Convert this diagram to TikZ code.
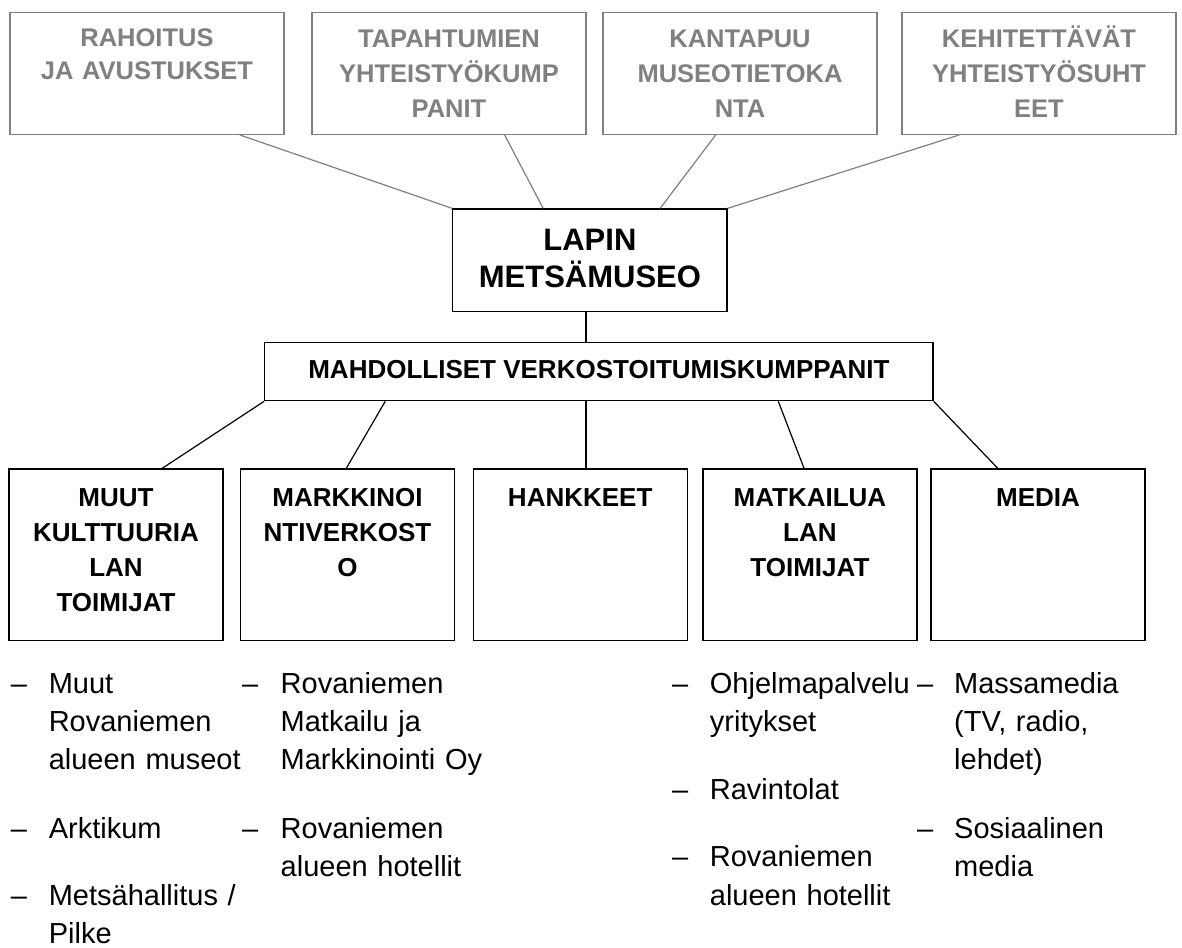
\documentclass[tikz,border=0pt]{standalone}
\usepackage{fontspec}
\setmainfont{Liberation Sans}
\definecolor{tgray}{RGB}{128,128,128}
\tikzset{
  topbox/.style={draw=tgray, line width=1.2pt, minimum width=274pt, minimum height=122pt, inner sep=0pt},
  toptext/.style={anchor=base, text width=270pt, align=center, inner sep=0pt, text=tgray, font=\bfseries\fontsize{25.5}{35}\selectfont},
  topline/.style={draw=tgray, line width=1.2pt},
  blkbox/.style={draw=black, line width=1.2pt, inner sep=0pt},
  lowbox/.style={blkbox, minimum width=214pt, minimum height=171.7pt},
  lowtext/.style={anchor=base, text width=210pt, align=center, inner sep=0pt, font=\bfseries\fontsize{26}{35}\selectfont},
  blkline/.style={draw=black, line width=1.2pt},
  itemtext/.style={anchor=base west, text width=240pt, align=left, inner sep=0pt, font=\fontsize{29}{38.3}\selectfont},
  dashmark/.style={anchor=base west, inner sep=0pt, font=\fontsize{29}{38.3}\selectfont}
}
\begin{document}
\begin{tikzpicture}[x=1pt,y=-1pt]
\fill[white] (0,0) rectangle (1182,947);
\useasboundingbox (0,0) rectangle (1182,947);

% top boxes
\node[topbox] (t1) at (147,73.3) {};
\node[topbox] (t2) at (449,73.3) {};
\node[topbox] (t3) at (740,73.3) {};
\node[topbox] (t4) at (1039,73.3) {};
\node[toptext, font=\bfseries\fontsize{25.5}{33.3}\selectfont] (t1t) at (147,46.7) {RAHOITUS\\JA AVUSTUKSET};
\node[toptext] (t2t) at (449,47.5) {TAPAHTUMIEN\\YHTEISTYÖKUMP\\PANIT};
\node[toptext] (t3t) at (740,47.5) {KANTAPUU\\MUSEOTIETOKA\\NTA};
\node[toptext] (t4t) at (1039,47.5) {KEHITETTÄVÄT\\YHTEISTYÖSUHT\\EET};

% central box
\node[blkbox, minimum width=274.3pt, minimum height=102.7pt] (lapin) at (589.9,260.3) {};
\node[anchor=base, text width=270pt, align=center, inner sep=0pt, font=\bfseries\fontsize{31}{37.3}\selectfont] (lapint) at (589.9,250) {LAPIN\\METSÄMUSEO};

\node[blkbox, minimum width=668.3pt, minimum height=58pt] (mahd) at (598.9,371.7) {};
\node[anchor=base, inner sep=0pt, font=\bfseries\fontsize{26}{32}\selectfont] (mahdt) at (598.9,378.3) {MAHDOLLISET VERKOSTOITUMISKUMPPANIT};

% top connectors
\draw[topline] ([xshift=230.3pt]t1.south west) -- (lapin.north west);
\draw[topline] ([xshift=193.2pt]t2.south west) -- ([xshift=91pt]lapin.north west);
\draw[topline] ([xshift=113.3pt]t3.south west) -- ([xshift=208pt]lapin.north west);
\draw[topline] ([xshift=58pt]t4.south west) -- (lapin.north east);

\draw[blkline] ([xshift=-3.9pt]lapin.south) -- ([xshift=-3.9pt]lapin.south |- mahd.north);

% lower boxes
\node[lowbox] (b1) at (116,554.9) {};
\node[lowbox] (b2) at (347.5,554.9) {};
\node[lowbox] (b3) at (580.2,554.9) {};
\node[lowbox] (b4) at (809.9,554.9) {};
\node[lowbox] (b5) at (1038,554.9) {};
\node[lowtext] (b1t) at (116,506.7) {MUUT\\KULTTUURIA\\LAN\\TOIMIJAT};
\node[lowtext] (b2t) at (347.5,506.7) {MARKKINOI\\NTIVERKOST\\O};
\node[lowtext] (b3t) at (580.2,506.7) {HANKKEET};
\node[lowtext] (b4t) at (809.9,506.7) {MATKAILUA\\LAN\\TOIMIJAT};
\node[lowtext] (b5t) at (1038,506.7) {MEDIA};

% lower connectors
\draw[blkline] (mahd.south west) -- ([xshift=153.6pt]b1.north west);
\draw[blkline] ([xshift=121.1pt]mahd.south west) -- ([xshift=106.3pt]b2.north west);
\draw[blkline] ([xshift=-12.9pt]mahd.south) -- ([xshift=-12.9pt]mahd.south |- b3.north);
\draw[blkline] ([xshift=514.1pt]mahd.south west) -- ([xshift=101.8pt]b4.north west);
\draw[blkline] (mahd.south east) -- ([xshift=67.5pt]b5.north west);

% lists
\node[dashmark] (d1a) at (10.7,693.3) {–};
\node[itemtext] (l1a) at (48.6,693.3) {Muut\\Rovaniemen\\alueen museot};
\node[dashmark] (d1b) at (10.7,838.3) {–};
\node[itemtext] (l1b) at (48.6,838.3) {Arktikum};
\node[dashmark] (d1c) at (10.7,905) {–};
\node[itemtext] (l1c) at (48.6,905) {Metsähallitus /\\Pilke};

\node[dashmark] (d2a) at (242,693.3) {–};
\node[itemtext] (l2a) at (280.5,693.3) {Rovaniemen\\Matkailu ja\\Markkinointi Oy};
\node[dashmark] (d2b) at (242,838.3) {–};
\node[itemtext] (l2b) at (280.5,838.3) {Rovaniemen\\alueen hotellit};

\node[dashmark] (d4a) at (672,693.3) {–};
\node[itemtext] (l4a) at (709.7,693.3) {Ohjelmapalvelu\\yritykset};
\node[dashmark] (d4b) at (672,799.3) {–};
\node[itemtext] (l4b) at (709.7,799.3) {Ravintolat};
\node[dashmark] (d4c) at (672,866.7) {–};
\node[itemtext] (l4c) at (709.7,866.7) {Rovaniemen\\alueen hotellit};

\node[dashmark] (d5a) at (917,693.3) {–};
\node[itemtext] (l5a) at (954,693.3) {Massamedia\\(TV, radio,\\lehdet)};
\node[dashmark] (d5b) at (917,838.3) {–};
\node[itemtext] (l5b) at (954,838.3) {Sosiaalinen\\media};
\end{tikzpicture}
\end{document}
